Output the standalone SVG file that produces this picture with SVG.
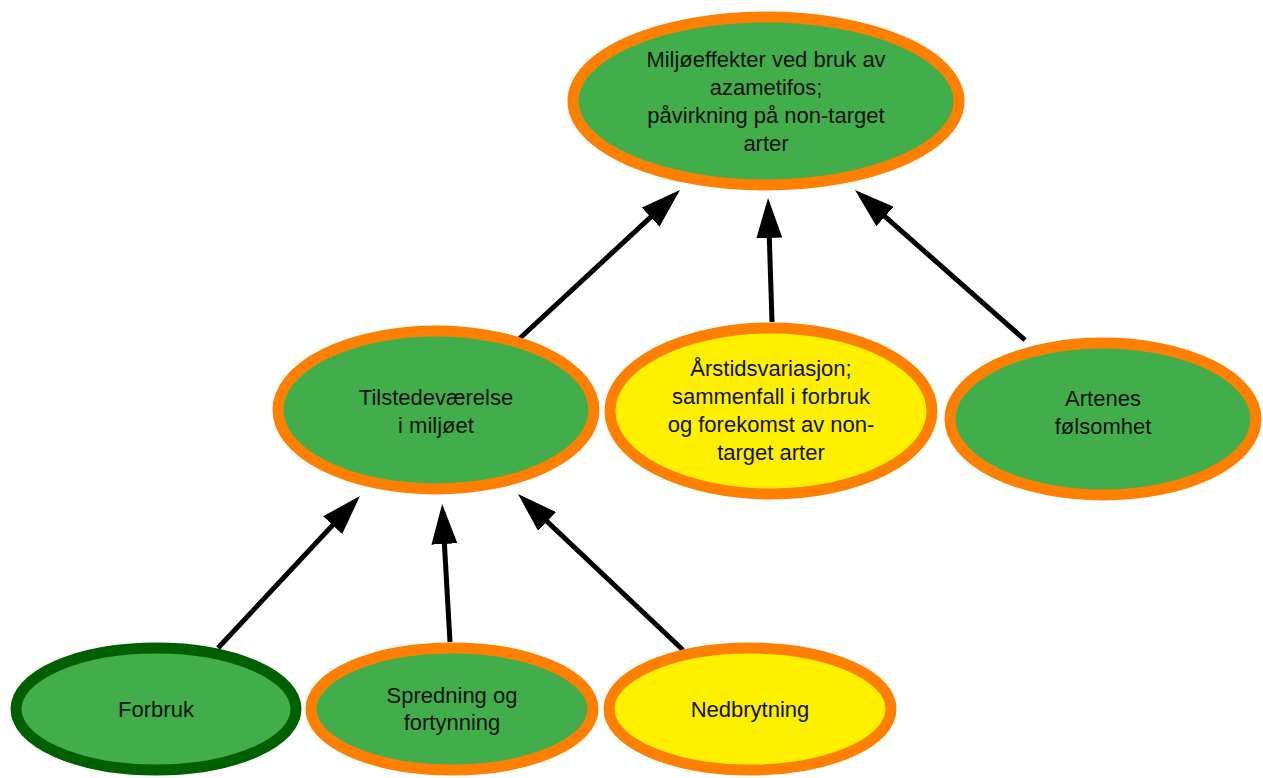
<svg xmlns="http://www.w3.org/2000/svg" width="1263" height="778" viewBox="0 0 1263 778">
  <style>
    .node { stroke-width: 11; }
    .green { fill: #42AE4B; }
    .yellow { fill: #FFF000; }
    .orange { stroke: #FF8000; }
    .dark { stroke: #006000; }
    .label { font-family: "Liberation Sans", Arial, sans-serif; font-size: 22px; fill: #111; text-anchor: middle; }
    .edge { stroke: #000; stroke-width: 5; fill: none; marker-end: url(#head); }
  </style>
  <defs>
    <!-- long filled arrowhead; line ends 8px short of the tip -->
    <marker id="head" viewBox="0 0 40 26" refX="32" refY="13" markerUnits="userSpaceOnUse" markerWidth="40" markerHeight="26" orient="auto">
      <path d="M0,0 L40,13 L0,26 Z" fill="#000"/>
    </marker>
  </defs>

  <g id="connectors">
    <line class="edge" x1="518" y1="340" x2="674.1" y2="195.4"/>
    <line class="edge" x1="772" y1="322" x2="768.3" y2="206"/>
    <line class="edge" x1="1025" y1="340" x2="861" y2="195.3"/>
    <line class="edge" x1="218" y1="648" x2="354.5" y2="501.8"/>
    <line class="edge" x1="450" y1="642" x2="442.6" y2="512"/>
    <line class="edge" x1="683" y1="650" x2="523.8" y2="499.5"/>
  </g>

  <g id="miljoeffekter">
    <ellipse class="node green orange" cx="766" cy="101" rx="193" ry="84"/>
    <text class="label" x="766" y="67">Miljøeffekter ved bruk av</text>
    <text class="label" x="766" y="95">azametifos;</text>
    <text class="label" x="766" y="123">påvirkning på non-target</text>
    <text class="label" x="766" y="151">arter</text>
  </g>

  <g id="tilstedevaerelse">
    <ellipse class="node green orange" cx="436" cy="410" rx="158" ry="79"/>
    <text class="label" x="436" y="405">Tilstedeværelse</text>
    <text class="label" x="436" y="433">i miljøet</text>
  </g>

  <g id="arstidsvariasjon">
    <ellipse class="node yellow orange" cx="771" cy="411" rx="161" ry="83"/>
    <text class="label" x="771" y="376">Årstidsvariasjon;</text>
    <text class="label" x="771" y="404">sammenfall i forbruk</text>
    <text class="label" x="771" y="432">og forekomst av non-</text>
    <text class="label" x="771" y="460">target arter</text>
  </g>

  <g id="artenes">
    <ellipse class="node green orange" cx="1103" cy="419" rx="153" ry="76"/>
    <text class="label" x="1103" y="406">Artenes</text>
    <text class="label" x="1103" y="434">følsomhet</text>
  </g>

  <g id="forbruk">
    <ellipse class="node green dark" cx="156" cy="709" rx="140" ry="61"/>
    <text class="label" x="156" y="717">Forbruk</text>
  </g>

  <g id="spredning">
    <ellipse class="node green orange" cx="452" cy="709" rx="141" ry="61"/>
    <text class="label" x="452" y="703">Spredning og</text>
    <text class="label" x="452" y="730">fortynning</text>
  </g>

  <g id="nedbrytning">
    <ellipse class="node yellow orange" cx="750" cy="709" rx="141" ry="61"/>
    <text class="label" x="750" y="717">Nedbrytning</text>
  </g>
</svg>
